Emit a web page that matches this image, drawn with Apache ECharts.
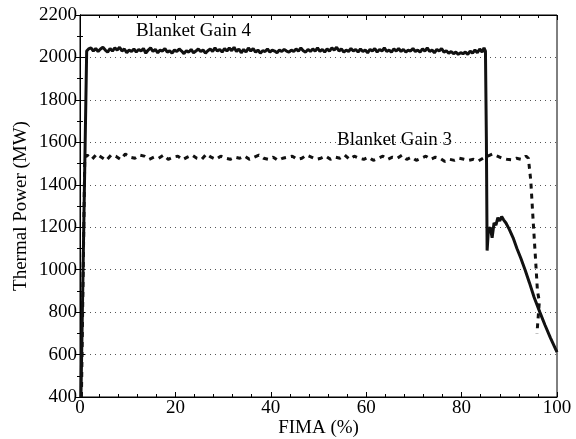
<!DOCTYPE html>
<html><head><meta charset="utf-8">
<script src="https://cdn.jsdelivr.net/npm/echarts@6/dist/echarts.min.js"></script>
<style>html,body{margin:0;padding:0;background:#fff}#c{width:576px;height:439px}</style>
</head><body><div id="c"></div>
<script>
var xTicks = [0, 20, 40, 60, 80, 100];
var yTicks = [400, 600, 800, 1000, 1200, 1400, 1600, 1800, 2000, 2200];
var seriesNames = ['Blanket Gain 4', 'Blanket Gain 3'];

var gain4 = [
[0.2,400],[1.4,2030],[1.8,2040],[2.3,2045],[2.8,2030],[3.3,2042],[3.8,2028],[4.3,2040],[4.8,2048],[5.3,2035],
[5.8,2025],[6.3,2042],[6.8,2030],[7.3,2045],[7.8,2035],[8.3,2048],[8.8,2030],[9.3,2040],[9.8,2022],[10.3,2035],
[10.8,2028],[11.3,2040],[11.8,2025],[12.3,2038],[12.8,2030],[13.3,2042],[13.8,2020],[14.3,2035],[14.8,2045],[15.3,2028],
[15.8,2038],[16.3,2022],[16.8,2035],[17.3,2030],[17.8,2042],[18.3,2025],[18.8,2032],[19.3,2020],[19.8,2035],[20.3,2028],
[20.8,2040],[21.3,2030],[21.8,2018],[22.3,2032],[22.8,2025],[23.3,2038],[23.8,2022],[24.3,2030],[24.8,2040],[25.3,2028],
[25.8,2035],[26.3,2020],[26.8,2032],[27.3,2040],[27.8,2028],[28.3,2045],[28.8,2030],[29.3,2038],[29.8,2025],[30.3,2042],
[30.8,2030],[31.3,2045],[31.8,2032],[32.3,2048],[32.8,2028],[33.3,2040],[33.8,2022],[34.3,2038],[34.8,2025],[35.3,2045],
[35.8,2030],[36.3,2042],[36.8,2025],[37.3,2035],[37.8,2020],[38.3,2032],[38.8,2028],[39.3,2040],[39.8,2025],[40.3,2035],
[40.8,2030],[41.3,2022],[41.8,2035],[42.3,2028],[42.8,2038],[43.3,2030],[43.8,2025],[44.3,2035],[44.8,2028],[45.3,2040],
[45.8,2030],[46.3,2045],[46.8,2032],[47.3,2025],[47.8,2038],[48.3,2028],[48.8,2040],[49.3,2030],[49.8,2045],[50.3,2028],
[50.8,2038],[51.3,2025],[51.8,2040],[52.3,2030],[52.8,2045],[53.3,2035],[53.8,2048],[54.3,2030],[54.8,2040],[55.3,2025],
[55.8,2035],[56.3,2028],[56.8,2042],[57.3,2030],[57.8,2038],[58.3,2025],[58.8,2040],[59.3,2028],[59.8,2035],[60.3,2022],
[60.8,2038],[61.3,2030],[61.8,2042],[62.3,2025],[62.8,2038],[63.3,2030],[63.8,2045],[64.3,2028],[64.8,2035],[65.3,2025],
[65.8,2040],[66.3,2030],[66.8,2042],[67.3,2028],[67.8,2038],[68.3,2025],[68.8,2035],[69.3,2030],[69.8,2042],[70.3,2028],
[70.8,2035],[71.3,2025],[71.8,2040],[72.3,2030],[72.8,2045],[73.3,2028],[73.8,2035],[74.3,2022],[74.8,2038],[75.3,2030],
[75.8,2042],[76.3,2025],[76.8,2032],[77.3,2020],[77.8,2028],[78.3,2018],[78.8,2025],[79.3,2015],[79.8,2022],[80.3,2018],
[80.8,2025],[81.3,2015],[81.8,2030],[82.3,2020],[82.8,2035],[83.3,2022],[83.8,2040],[84.3,2025],[84.7,2045],[85,2030],
[85.2,1600],[85.35,1090],[85.6,1180],[86,1200],[86.4,1150],[86.8,1220],[87.2,1210],[87.6,1245],[88,1230],[88.4,1250],
[88.8,1235],[89.3,1220],[90,1190],[90.8,1150],[91.6,1100],[92.4,1055],[93.3,1000],[94.2,940],[95.2,870],[96.4,800],
[97.5,738],[98.6,680],[100,612]
];

var gain3 = [
[0.3,400],[1.0,1530],[1.5,1540],[2.5,1520],[3.5,1545],[4.5,1530],[5.5,1515],[6.5,1540],[7.5,1535],[8.5,1520],
[9.5,1545],[10.5,1530],[11.5,1525],[12.5,1540],[13.5,1535],[14.5,1520],[15.5,1530],[16.5,1525],[17.5,1540],
[18.5,1520],[19.5,1530],[20.5,1535],[21.5,1518],[22.5,1530],[23.5,1540],[24.5,1525],[25.5,1520],[26.5,1545],
[27.5,1530],[28.5,1520],[29.5,1535],[30.5,1525],[31.5,1520],[32.5,1530],[33.5,1525],[34.5,1535],[35.5,1520],
[36.5,1530],[37.5,1540],[38.5,1525],[39.5,1520],[40.5,1530],[41.5,1515],[42.5,1525],[43.5,1530],[44.5,1535],
[45.5,1520],[46.5,1525],[47.5,1540],[48.5,1530],[49.5,1520],[50.5,1525],[51.5,1535],[52.5,1520],[53.5,1530],
[54.5,1525],[55.5,1540],[56.5,1520],[57.5,1535],[58.5,1525],[59.5,1520],[60.5,1530],[61.5,1515],[62.5,1525],
[63.5,1535],[64.5,1520],[65.5,1530],[66.5,1525],[67.5,1540],[68.5,1520],[69.5,1530],[70.5,1515],[71.5,1525],
[72.5,1535],[73.5,1520],[74.5,1530],[75.5,1525],[76.5,1510],[77.5,1520],[78.5,1515],[79.5,1525],[80.5,1520],
[81.5,1515],[82.5,1520],[83.5,1512],[84.5,1525],[85.5,1535],[86.5,1545],[87.5,1535],[88.5,1525],[89.5,1520],
[90.5,1518],[91.5,1525],[92.5,1520],[93.5,1535],[94,1525],[94.5,1420],[95,1230],[95.5,1050],[95.9,900],
[96.3,850],[96,760],[95.8,700]
];

var labelFont = 'Liberation Serif';
var chart = echarts.init(document.getElementById('c'), null, {renderer: 'canvas'});
var tickStyle = {show: true, inside: true, length: 5, lineStyle: {color: '#000', width: 1}};
function plain(v) { return String(v); }
chart.setOption({
  animation: false,
  backgroundColor: '#fff',
  grid: {left: 80, right: 19, top: 15, bottom: 42, show: true, borderColor: '#000', borderWidth: 1,
         containLabel: false, outerBoundsMode: 'none'},
  xAxis: [{
    type: 'value', min: xTicks[0], max: xTicks[xTicks.length - 1], interval: 20,
    name: 'FIMA (%)', nameLocation: 'middle', nameGap: 22, nameMoveOverlap: false,
    nameTextStyle: {fontFamily: labelFont, fontSize: 19, color: '#000'},
    axisLine: {show: true, lineStyle: {color: '#000'}},
    axisTick: tickStyle,
    minorTick: {show: true, splitNumber: 5, length: 3, lineStyle: {color: '#000'}},
    axisLabel: {fontFamily: labelFont, fontSize: 19, color: '#000', margin: 2, formatter: plain},
    splitLine: {show: false}
  }, {
    type: 'value', position: 'top', min: xTicks[0], max: xTicks[xTicks.length - 1], interval: 20,
    axisLine: {show: true, lineStyle: {color: '#000'}},
    axisTick: tickStyle,
    minorTick: {show: true, splitNumber: 5, length: 3, lineStyle: {color: '#000'}},
    axisLabel: {show: false}, splitLine: {show: false}
  }],
  yAxis: [{
    type: 'value', min: yTicks[0], max: yTicks[yTicks.length - 1], interval: 200,
    name: 'Thermal Power (MW)', nameLocation: 'middle', nameGap: 49, nameMoveOverlap: false,
    nameTextStyle: {fontFamily: labelFont, fontSize: 19, color: '#000'},
    axisLine: {show: true, lineStyle: {color: '#000'}},
    axisTick: tickStyle,
    minorTick: {show: true, splitNumber: 2, length: 3, lineStyle: {color: '#000'}},
    axisLabel: {fontFamily: labelFont, fontSize: 19, color: '#000', margin: 3, formatter: plain},
    splitLine: {show: true, lineStyle: {color: '#555', type: [1, 4], width: 1}}
  }, {
    type: 'value', position: 'right', min: yTicks[0], max: yTicks[yTicks.length - 1], interval: 200,
    axisLine: {show: true, lineStyle: {color: '#000'}},
    axisTick: tickStyle,
    minorTick: {show: true, splitNumber: 2, length: 3, lineStyle: {color: '#000'}},
    axisLabel: {show: false}, splitLine: {show: false}
  }],
  graphic: [
    {type: 'text', left: 136, top: 22, style: {text: seriesNames[0], font: '19px "Liberation Serif"', fill: '#000'}},
    {type: 'text', left: 337, top: 131, style: {text: seriesNames[1], font: '19px "Liberation Serif"', fill: '#000'}}
  ],
  series: [
    {name: seriesNames[0], type: 'line', data: gain4, showSymbol: false, symbol: 'none',
     lineStyle: {color: '#111', width: 3}},
    {name: seriesNames[1], type: 'line', data: gain3, showSymbol: false, symbol: 'none',
     lineStyle: {color: '#111', width: 3, type: [5, 5]}}
  ]
});
</script></body></html>
